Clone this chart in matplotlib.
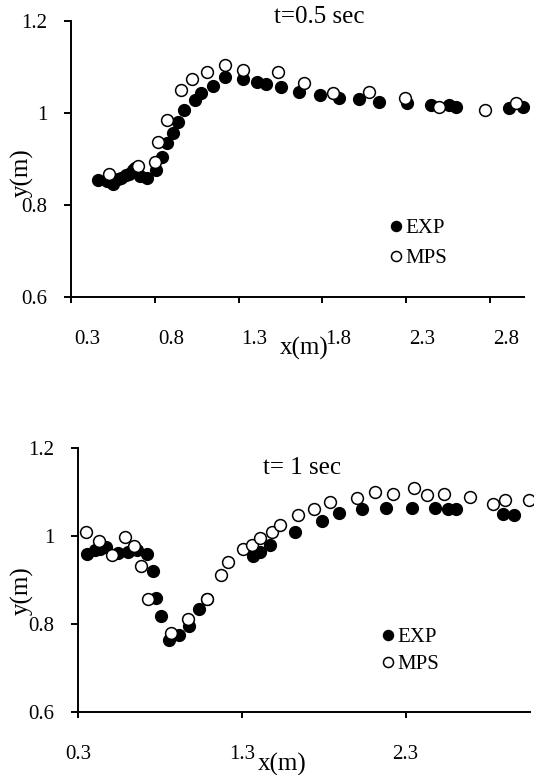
import matplotlib
matplotlib.use('Agg')
import matplotlib.pyplot as plt
from matplotlib.transforms import ScaledTranslation

plt.rcParams['font.family'] = ['Liberation Serif', 'DejaVu Serif']

# t = 0.5 sec
x_exp_05 = [0.462, 0.512, 0.548, 0.582, 0.600, 0.631, 0.645, 0.667, 0.681, 0.711,
            0.754, 0.810, 0.843, 0.870, 0.909, 0.939, 0.973, 1.038, 1.078, 1.147,
            1.221, 1.326, 1.411, 1.461, 1.551, 1.661, 1.786, 1.901, 2.016, 2.135,
            2.302, 2.447, 2.556, 2.596, 2.913, 2.996]
y_exp_05 = [0.853, 0.852, 0.846, 0.856, 0.858, 0.865, 0.868, 0.876, 0.880, 0.862,
            0.858, 0.875, 0.904, 0.934, 0.956, 0.979, 1.005, 1.027, 1.044, 1.059,
            1.078, 1.073, 1.066, 1.062, 1.056, 1.046, 1.039, 1.032, 1.031, 1.023,
            1.021, 1.016, 1.017, 1.012, 1.010, 1.012]
x_mps_05 = [0.528, 0.700, 0.800, 0.820, 0.870, 0.959, 1.024, 1.111, 1.221, 1.326,
            1.538, 1.689, 1.861, 2.080, 2.294, 2.496, 2.768, 2.957]
y_mps_05 = [0.868, 0.885, 0.894, 0.936, 0.985, 1.050, 1.073, 1.088, 1.103, 1.093,
            1.088, 1.064, 1.043, 1.045, 1.032, 1.012, 1.006, 1.022]

# t = 1 sec
x_exp_1 = [0.357, 0.404, 0.434, 0.471, 0.546, 0.606, 0.658, 0.722, 0.759, 0.779,
           0.805, 0.856, 0.915, 0.976, 1.037, 1.088, 1.369, 1.410, 1.475, 1.623,
           1.792, 1.893, 2.036, 2.178, 2.341, 2.477, 2.558, 2.609, 2.898, 2.965]
y_exp_1 = [0.959, 0.968, 0.970, 0.976, 0.961, 0.964, 0.968, 0.959, 0.920, 0.860,
           0.819, 0.764, 0.775, 0.796, 0.833, 0.856, 0.955, 0.964, 0.980, 1.010,
           1.035, 1.053, 1.061, 1.063, 1.064, 1.063, 1.061, 1.061, 1.049, 1.048]
x_mps_1 = [0.349, 0.428, 0.509, 0.587, 0.641, 0.684, 0.729, 0.865, 0.973, 1.085,
           1.172, 1.218, 1.308, 1.365, 1.410, 1.485, 1.536, 1.643, 1.739, 1.837,
           2.003, 2.111, 2.223, 2.349, 2.430, 2.534, 2.696, 2.837, 2.908, 3.052]
y_mps_1 = [1.008, 0.989, 0.957, 0.997, 0.977, 0.932, 0.857, 0.779, 0.811, 0.857,
           0.911, 0.942, 0.970, 0.980, 0.995, 1.008, 1.025, 1.048, 1.061, 1.077,
           1.086, 1.099, 1.095, 1.110, 1.093, 1.095, 1.089, 1.073, 1.082, 1.082]

y_ticks = [0.6, 0.8, 1.0, 1.2]
y_tick_labels = ['0.6', '0.8', '1', '1.2']
x_ticks_05 = [0.3, 0.8, 1.3, 1.8, 2.3, 2.8]
x_ticks_1 = [0.3, 1.3, 2.3]

fig = plt.figure(figsize=(5.34, 7.75), dpi=100)
ax1 = fig.add_axes([71/534, 1-297/775, 452.5/534, 276.3/775])
ax2 = fig.add_axes([78/534, 1-712/775, 452/534, 264/775])


def panel(ax, xe, ye, xm, ym, xticks, xmax, title, tpos, lab_x, lab_y, leg_anchor, lspace, shift):
    ax.plot(xe, ye, 'o', color='black', mec='black', ms=8.5, label='EXP', clip_on=False)
    ax.plot(xm, ym, 'o', color='white', mec='black', mew=1.1, ms=8.5, label='MPS', clip_on=False)
    ax.set_xlim(0.3, xmax)
    ax.set_ylim(0.6, 1.2)
    ax.set_xticks(xticks)
    ax.set_xticklabels([str(v) for v in xticks])
    ax.set_yticks(y_ticks)
    ax.set_yticklabels(y_tick_labels)
    for s in ['top', 'right']:
        ax.spines[s].set_visible(False)
    for s in ['left', 'bottom']:
        ax.spines[s].set_linewidth(1.4)
    ax.tick_params(axis='x', direction='out', length=4, width=1.4, pad=20, labelsize=15)
    ax.tick_params(axis='y', direction='out', length=5, width=1.4, pad=12, labelsize=15)
    if shift:
        off = ScaledTranslation(shift/100, 0, fig.dpi_scale_trans)
        for lb in ax.get_xticklabels():
            lb.set_transform(lb.get_transform() + off)
    ax.set_xlabel('x(m)', fontsize=18)
    ax.xaxis.set_label_coords(lab_x[0], lab_x[1])
    ax.set_ylabel('y(m)', fontsize=18, va='center')
    ax.yaxis.set_label_coords(lab_y[0], lab_y[1])
    ax.text(tpos[0], tpos[1], title, transform=ax.transAxes, ha='center', va='center', fontsize=18)
    ax.legend(loc='upper left', bbox_to_anchor=leg_anchor, frameon=False, fontsize=15,
              handlelength=0.6, handletextpad=0.15, borderpad=0, borderaxespad=0,
              labelspacing=lspace, markerscale=0.85)


panel(ax1, x_exp_05, y_exp_05, x_mps_05, y_mps_05, x_ticks_05, 3.0, 't=0.5 sec',
      ((319-71)/452.5, 1-(17-21)/276), (0.515, -0.145), (-0.108, 0.45), (0.705, 0.284), 0.5, 16)
panel(ax2, x_exp_1, y_exp_1, x_mps_1, y_mps_1, x_ticks_1, 3.06, 't= 1 sec',
      ((302-78)/452, 1-(468-448)/264), (0.451, -0.155), (-0.124, 0.46), (0.671, 0.32), 0.35, 0)

fig.savefig('out.png', dpi=100)
